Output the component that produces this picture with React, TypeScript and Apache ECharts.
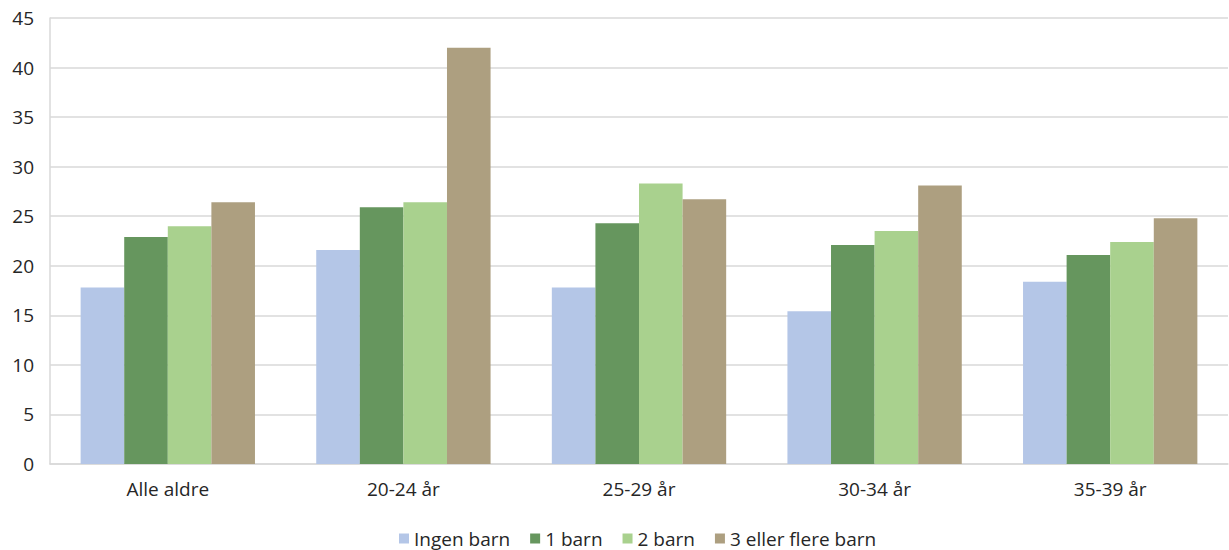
import React, { useEffect, useRef } from "react";
import * as echarts from "echarts";

const categories = ["Alle aldre", "20-24 år", "25-29 år", "30-34 år", "35-39 år"];
const seriesNames = ["Ingen barn", "1 barn", "2 barn", "3 eller flere barn"];
const ingenBarn = [17.8, 21.6, 17.8, 15.4, 18.4];
const ettBarn = [22.9, 25.9, 24.3, 22.1, 21.1];
const toBarn = [24.0, 26.4, 28.3, 23.5, 22.4];
const treFlere = [26.4, 42.0, 26.7, 28.1, 24.8];
const colors = ["#b4c6e7", "#66965e", "#a9d18e", "#ad9f80"];

export default function App() {
  const ref = useRef<HTMLDivElement>(null);
  useEffect(() => {
    if (!ref.current) return;
    const chart = echarts.init(ref.current, undefined, { renderer: "svg" });
    const data = [ingenBarn, ettBarn, toBarn, treFlere];
    chart.setOption({
      animation: false,
      textStyle: { fontFamily: "Open Sans" },
      grid: { left: 50, right: 1, top: 18, bottom: 86, containLabel: false },
      legend: {
        top: 528,
        left: 399,
        padding: 0,
        itemWidth: 10,
        itemHeight: 10,
        itemGap: 20,
        icon: "rect",
        textStyle: { fontSize: 19, lineHeight: 21, color: "#262626", fontFamily: "Open Sans" },
        data: seriesNames,
      },
      xAxis: {
        type: "category",
        data: categories,
        axisLine: { lineStyle: { color: "#d9d9d9", width: 1.5 } },
        axisTick: { show: false },
        axisLabel: { fontSize: 19, color: "#262626", margin: 15 },
      },
      yAxis: {
        type: "value",
        min: 0,
        max: 45,
        interval: 5,
        axisLine: { show: true, lineStyle: { color: "#d9d9d9", width: 1.5 } },
        axisTick: { show: false },
        splitLine: { lineStyle: { color: "#d9d9d9", width: 1.5 } },
        axisLabel: { fontSize: 19, color: "#262626", margin: 16 },
      },
      series: seriesNames.map((name, i) => ({
        name,
        type: "bar",
        data: data[i],
        barGap: "0%",
        barCategoryGap: "26%",
        itemStyle: { color: colors[i] },
      })),
    });
    return () => chart.dispose();
  }, []);
  return (
    <div
      ref={ref}
      style={{ position: "absolute", left: 0, top: 0, width: 1229, height: 550 }}
    />
  );
}
